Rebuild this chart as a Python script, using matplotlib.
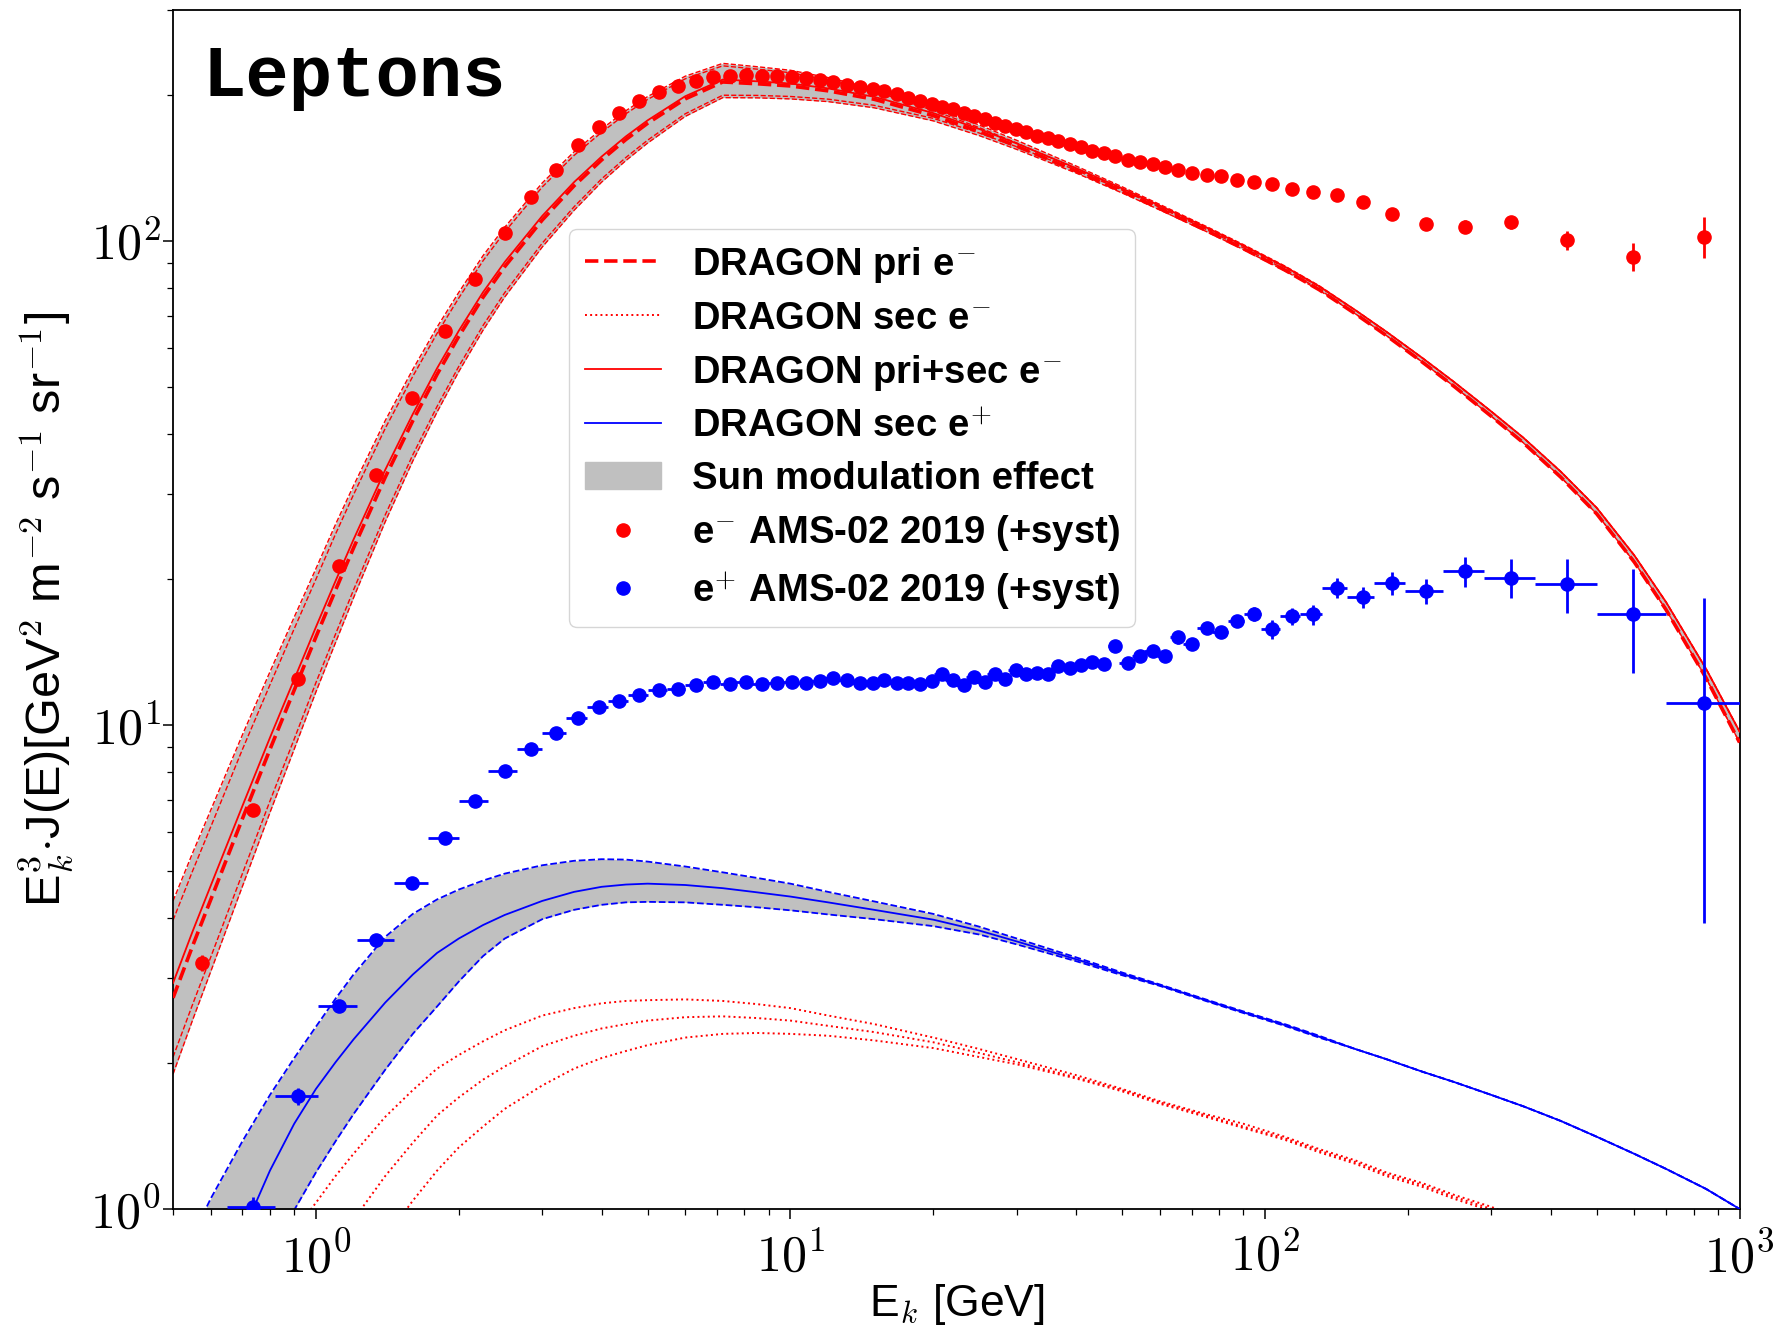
import numpy as np
import matplotlib
matplotlib.use('Agg')
import matplotlib.pyplot as plt
from matplotlib.lines import Line2D
from matplotlib.patches import Patch
from matplotlib.ticker import FixedLocator, FuncFormatter, NullFormatter, LogLocator

plt.rcParams['font.family'] = ['Liberation Sans', 'DejaVu Sans']
plt.rcParams['mathtext.fontset'] = 'cm'

# AMS-02 2019 energy bins (GeV)
bin_edges = [0.50, 0.65, 0.82, 1.01, 1.22, 1.46, 1.72, 2.00, 2.31, 2.65,
             3.00, 3.36, 3.73, 4.12, 4.54, 5.00, 5.49, 6.00, 6.54, 7.10,
             7.69, 8.30, 8.95, 9.62, 10.32, 11.04, 11.80, 12.59, 13.41, 14.25,
             15.14, 16.05, 17.00, 17.98, 18.99, 20.04, 21.13, 22.25, 23.42, 24.62,
             25.90, 27.25, 28.68, 30.21, 31.82, 33.53, 35.36, 37.31, 39.39, 41.61,
             44.00, 46.57, 49.33, 52.33, 55.58, 59.13, 63.02, 67.30, 72.05, 77.37,
             83.36, 90.19, 98.08, 107.3, 118.4, 132.1, 148.8, 169.9, 197.7, 237.2,
             290.0, 370.0, 500.0, 700.0, 1000.0]

e_kin = [0.575, 0.737, 0.917, 1.121, 1.341, 1.594, 1.867, 2.166, 2.498, 2.846,
         3.210, 3.575, 3.958, 4.358, 4.800, 5.277, 5.789, 6.317, 6.869, 7.467,
         8.072, 8.694, 9.365, 10.08, 10.76, 11.54, 12.32, 13.14, 13.98, 14.89,
         15.77, 16.74, 17.69, 18.77, 19.85, 20.90, 21.98, 23.19, 24.42, 25.64,
         26.95, 28.38, 29.85, 31.38, 33.05, 34.81, 36.67, 38.77, 41.00, 43.25,
         45.73, 48.35, 51.38, 54.54, 57.98, 61.65, 65.66, 70.31, 75.46, 80.93,
         87.50, 94.78, 103.4, 114.1, 126.2, 141.5, 160.5, 185.1, 218.4, 264.3,
         330.0, 433.0, 595.3, 841.9]

# e- flux (E^3 J)
ele_flux = [3.22, 6.66, 12.46, 21.3, 32.8, 47.4, 65.0, 83.3, 103.8, 123.4,
            140.3, 158.0, 172.2, 183.7, 194.2, 202.6, 208.9, 214.2, 217.7, 219.3,
            220.3, 219.6, 219.3, 218.3, 216.9, 214.8, 212.8, 210.4, 208.2, 205.8,
            203.6, 201.0, 197.8, 194.7, 192.2, 189.2, 186.9, 183.9, 181.3, 178.8,
            175.6, 172.9, 170.2, 167.6, 164.8, 162.8, 160.5, 158.5, 156.0, 153.6,
            151.6, 149.7, 146.9, 145.9, 144.5, 141.8, 140.0, 137.9, 137.0, 135.9,
            133.8, 132.1, 131.1, 127.9, 126.0, 124.4, 120.5, 113.6, 108.3, 107.0,
            109.2, 100.4, 92.8, 102.0]
ele_err = [0.12, 0.15, 0.2, 0.3, 0.4, 0.5, 0.6, 0.7, 0.8, 0.9,
           1.0, 1.0, 1.0, 1.0, 1.0, 1.0, 1.0, 1.0, 1.0, 1.0,
           1.0, 1.0, 1.0, 1.0, 1.0, 1.0, 1.0, 1.0, 1.0, 1.0,
           1.0, 1.0, 1.0, 1.0, 1.0, 1.0, 1.0, 1.0, 1.0, 1.0,
           1.0, 1.0, 1.0, 1.0, 1.0, 1.0, 1.0, 1.0, 1.0, 1.0,
           1.0, 1.0, 1.0, 1.0, 1.0, 1.0, 1.0, 1.0, 1.0, 1.0,
           1.2, 1.3, 1.4, 1.5, 1.7, 2.0, 2.3, 2.6, 3.0, 3.2,
           3.5, 4.5, 6.0, 10.0]

# e+ flux, from the second bin on
pos_flux = [1.011, 1.711, 2.624, 3.592, 4.717, 5.842, 6.954, 8.035, 8.920, 9.623,
            10.35, 10.89, 11.18, 11.51, 11.79, 11.85, 12.07, 12.26, 12.13, 12.26,
            12.13, 12.23, 12.26, 12.21, 12.31, 12.52, 12.40, 12.23, 12.23, 12.37,
            12.23, 12.23, 12.13, 12.31, 12.72, 12.37, 12.07, 12.56, 12.26, 12.72,
            12.46, 12.96, 12.72, 12.82, 12.72, 13.22, 13.13, 13.27, 13.49, 13.38,
            14.53, 13.45, 13.87, 14.21, 13.87, 15.17, 14.70, 15.88, 15.56, 16.38,
            16.94, 15.76, 16.76, 16.92, 19.20, 18.37, 19.63, 18.90, 20.77, 20.14,
            19.57, 16.92, 11.10]
pos_err = [0.05, 0.07, 0.07, 0.06, 0.07, 0.08, 0.09, 0.1, 0.1, 0.1,
           0.1, 0.1, 0.1, 0.1, 0.1, 0.1, 0.1, 0.1, 0.1, 0.1,
           0.15, 0.15, 0.15, 0.15, 0.15, 0.15, 0.15, 0.15, 0.15, 0.15,
           0.15, 0.15, 0.15, 0.15, 0.15, 0.2, 0.2, 0.2, 0.2, 0.2,
           0.2, 0.2, 0.2, 0.2, 0.2, 0.3, 0.3, 0.3, 0.3, 0.3,
           0.35, 0.35, 0.35, 0.35, 0.35, 0.45, 0.45, 0.45, 0.45, 0.45,
           0.55, 0.7, 0.7, 0.8, 0.9, 0.95, 1.05, 1.15, 1.5, 1.85,
           2.5, 4.1, 7.2]

# DRAGON model curves (three solar modulation levels)
model_E = [0.5, 0.55, 0.6, 0.7, 0.8, 0.9, 1.0, 1.1, 1.2, 1.4,
           1.6, 1.8, 2.0, 2.25, 2.5, 3.0, 3.5, 4.0, 4.5, 5.0,
           6.0, 7.2, 8.5, 10, 12, 15, 20, 25, 30, 40,
           50, 60, 75, 90, 110, 130, 155, 180, 215, 250,
           300, 350, 420, 500, 600, 700, 850, 1000]
pri_lo = [3.95, 5.0, 6.15, 8.9, 12.1, 15.8, 20.0, 24.8, 29.9, 41.0,
          52.5, 64.4, 76.2, 91.0, 104.4, 129.3, 150.2, 167.6, 183.1, 196.0,
          216.2, 230.0, 226.4, 222.6, 215.0, 204.0, 186.0, 171.4, 159.3, 140.9,
          127.6, 117.3, 105.7, 96.8, 87.4, 79.5, 70.7, 63.8, 56.1, 50.1,
          43.4, 38.3, 32.5, 27.3, 21.7, 17.3, 12.5, 9.2]
pri_mid = [2.73, 3.50, 4.35, 6.4, 8.9, 11.8, 15.2, 19.0, 23.2, 32.5,
           42.5, 53.0, 63.5, 76.5, 88.5, 110.5, 130.0, 147.0, 162.0, 175.0,
           196.5, 213.0, 211.2, 209.0, 204.2, 196.2, 181.5, 168.2, 156.9, 139.5,
           126.6, 116.6, 105.2, 96.4, 87.1, 79.3, 70.7, 63.8, 56.1, 50.1,
           43.4, 38.3, 32.5, 27.3, 21.7, 17.3, 12.5, 9.2]
pri_hi = [1.90, 2.46, 3.09, 4.64, 6.59, 8.91, 11.7, 14.8, 18.3, 26.3,
          35.1, 44.3, 53.7, 65.4, 76.6, 97.2, 115.7, 132.3, 146.6, 159.3,
          180.8, 197.7, 197.5, 196.5, 194.0, 188.4, 177.0, 165.0, 154.5, 138.1,
          125.6, 115.9, 104.7, 96.0, 86.8, 79.1, 70.7, 63.8, 56.1, 50.1,
          43.4, 38.3, 32.5, 27.3, 21.7, 17.3, 12.5, 9.2]
sec_lo = [0.38, 0.445, 0.51, 0.64, 0.77, 0.90, 1.03, 1.17, 1.30, 1.55,
          1.76, 1.95, 2.08, 2.22, 2.34, 2.51, 2.60, 2.66, 2.69, 2.70,
          2.71, 2.69, 2.65, 2.60, 2.51, 2.41, 2.26, 2.14, 2.04, 1.89,
          1.77, 1.67, 1.57, 1.50, 1.41, 1.33, 1.26, 1.19, 1.13, 1.07,
          1.01, 0.95, 0.88, 0.80, 0.72, 0.65, 0.57, 0.50]
sec_mid = [0.20, 0.25, 0.30, 0.40, 0.51, 0.62, 0.73, 0.84, 0.95, 1.17,
           1.37, 1.56, 1.70, 1.85, 1.97, 2.17, 2.28, 2.36, 2.41, 2.45,
           2.49, 2.50, 2.48, 2.45, 2.39, 2.32, 2.21, 2.10, 2.01, 1.87,
           1.76, 1.66, 1.56, 1.48, 1.40, 1.32, 1.25, 1.18, 1.12, 1.06,
           1.00, 0.94, 0.87, 0.79, 0.71, 0.64, 0.56, 0.49]
sec_hi = [0.16, 0.19, 0.22, 0.29, 0.37, 0.44, 0.53, 0.61, 0.70, 0.87,
          1.04, 1.20, 1.34, 1.48, 1.61, 1.80, 1.95, 2.05, 2.12, 2.18,
          2.26, 2.30, 2.31, 2.30, 2.28, 2.23, 2.15, 2.06, 1.99, 1.86,
          1.75, 1.65, 1.55, 1.47, 1.39, 1.31, 1.24, 1.17, 1.11, 1.05,
          0.99, 0.93, 0.86, 0.78, 0.70, 0.63, 0.55, 0.48]
pos_lo = [0.73, 0.88, 1.05, 1.38, 1.72, 2.05, 2.38, 2.72, 3.05, 3.65,
          4.07, 4.36, 4.57, 4.77, 4.93, 5.13, 5.24, 5.28, 5.27, 5.22,
          5.10, 4.96, 4.83, 4.70, 4.52, 4.32, 4.07, 3.83, 3.62, 3.31,
          3.08, 2.91, 2.71, 2.56, 2.41, 2.28, 2.14, 2.04, 1.92, 1.83,
          1.72, 1.63, 1.52, 1.41, 1.30, 1.21, 1.10, 1.00]
pos_mid = [0.36, 0.47, 0.60, 0.89, 1.20, 1.50, 1.77, 2.01, 2.24, 2.67,
           3.05, 3.38, 3.62, 3.86, 4.05, 4.33, 4.52, 4.63, 4.68, 4.70,
           4.67, 4.60, 4.51, 4.42, 4.30, 4.15, 3.96, 3.76, 3.57, 3.28,
           3.06, 2.90, 2.70, 2.55, 2.40, 2.27, 2.14, 2.04, 1.92, 1.83,
           1.72, 1.63, 1.52, 1.41, 1.30, 1.21, 1.10, 1.00]
pos_hi = [0.30, 0.36, 0.44, 0.61, 0.80, 0.995, 1.19, 1.38, 1.57, 1.94,
          2.30, 2.62, 2.95, 3.33, 3.62, 3.97, 4.15, 4.25, 4.30, 4.31,
          4.30, 4.25, 4.20, 4.14, 4.06, 3.97, 3.84, 3.69, 3.52, 3.25,
          3.04, 2.89, 2.69, 2.54, 2.39, 2.26, 2.14, 2.04, 1.92, 1.83,
          1.72, 1.63, 1.52, 1.41, 1.30, 1.21, 1.10, 1.00]

E = np.array(model_E)
tot_lo = np.array(pri_lo) + np.array(sec_lo)
tot_mid = np.array(pri_mid) + np.array(sec_mid)
tot_hi = np.array(pri_hi) + np.array(sec_hi)

fig = plt.figure(figsize=(17.86, 13.30), dpi=100)
ax = fig.add_axes([0.0969, 0.0910, 0.8771, 0.9015])

# modulation bands
ax.fill_between(E, tot_lo, pri_hi, color='silver', lw=0, zorder=1)
ax.fill_between(E, pos_lo, pos_hi, color='silver', lw=0, zorder=1)

# electrons
for curve in [pri_lo, pri_hi, tot_lo, tot_hi]:
    ax.plot(E, curve, color='red', ls='--', lw=1.0, zorder=2)
ax.plot(E, pri_mid, color='red', ls='--', lw=2.6, zorder=3)
ax.plot(E, tot_mid, color='red', ls='-', lw=1.3, zorder=3)
for curve in [sec_lo, sec_mid, sec_hi]:
    ax.plot(E, curve, color='red', ls=':', lw=1.4, zorder=2)

# positrons
ax.plot(E, pos_lo, color='blue', ls='--', lw=1.3, zorder=2)
ax.plot(E, pos_hi, color='blue', ls='--', lw=1.3, zorder=2)
ax.plot(E, pos_mid, color='blue', ls='-', lw=1.3, zorder=3)

# data
ax.errorbar(e_kin, ele_flux, yerr=ele_err, fmt='o', color='red', ms=9.5,
            elinewidth=2, capsize=0, zorder=5)
ep = np.array(e_kin[1:])
lo_edge = np.array(bin_edges[1:-1])
hi_edge = np.array(bin_edges[2:])
ax.errorbar(ep, pos_flux, xerr=[ep - lo_edge, hi_edge - ep], yerr=pos_err,
            fmt='o', color='blue', ms=9.5, elinewidth=2, capsize=0, zorder=5)

ax.set_xscale('log')
ax.set_yscale('log')
ax.set_xlim(0.5, 1000)
ax.set_ylim(1, 300)

ax.xaxis.set_major_locator(FixedLocator([1, 10, 100, 1000]))
ax.yaxis.set_major_locator(FixedLocator([1, 10, 100]))
fmt = FuncFormatter(lambda v, p: r'$10^{%d}$' % int(round(np.log10(v))))
ax.xaxis.set_major_formatter(fmt)
ax.yaxis.set_major_formatter(fmt)
ax.xaxis.set_minor_locator(LogLocator(base=10, subs=np.arange(2, 10)))
ax.yaxis.set_minor_locator(LogLocator(base=10, subs=np.arange(2, 10)))
ax.xaxis.set_minor_formatter(NullFormatter())
ax.yaxis.set_minor_formatter(NullFormatter())
ax.tick_params(which='major', length=7, width=1.1, labelsize=36)
ax.tick_params(which='minor', length=4, width=0.9)
ax.tick_params(axis='x', which='major', pad=10)
ax.tick_params(axis='y', which='major', pad=2)
for s in ax.spines.values():
    s.set_linewidth(1.3)

ax.set_xlabel(r'E$_k$ [GeV]', fontsize=32, labelpad=0)
ax.set_ylabel(r'E$_k^3$$\cdot$J(E)[GeV$^2$ m$^{-2}$ s$^{-1}$ sr$^{-1}$]',
              fontsize=35, labelpad=11)

ax.text(0.019, 0.928, 'Leptons', transform=ax.transAxes, fontsize=52,
        fontweight='bold', family='Liberation Mono', va='baseline')

handles = [
    Line2D([], [], color='red', ls='--', lw=2.6),
    Line2D([], [], color='red', ls=':', lw=1.4),
    Line2D([], [], color='red', ls='-', lw=1.3),
    Line2D([], [], color='blue', ls='-', lw=1.3),
    Patch(color='silver'),
    Line2D([], [], color='red', marker='o', ls='none', ms=9.5),
    Line2D([], [], color='blue', marker='o', ls='none', ms=9.5),
]
labels = [
    'DRAGON pri e$^{-}$',
    'DRAGON sec e$^{-}$',
    'DRAGON pri+sec e$^{-}$',
    'DRAGON sec e$^{+}$',
    'Sun modulation effect',
    'e$^{-}$ AMS-02 2019 (+syst)',
    'e$^{+}$ AMS-02 2019 (+syst)',
]
ax.legend(handles, labels, loc='upper left', bbox_to_anchor=(0.253, 0.817),
          borderaxespad=0, prop={'weight': 'bold', 'size': 27.5},
          labelspacing=0.42, handlelength=2.0, handletextpad=0.8,
          numpoints=1, borderpad=0.4)

fig.savefig('out.png', dpi=100)
